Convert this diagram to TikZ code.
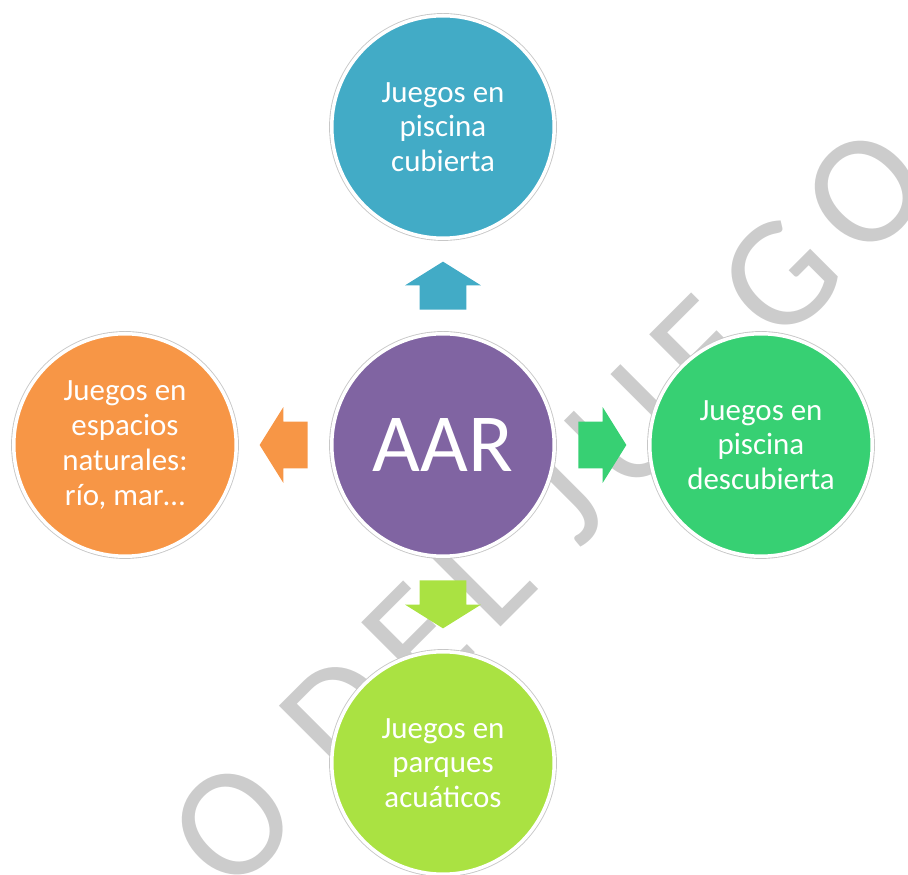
\documentclass[tikz,border=0pt]{standalone}
\usepackage{fontspec}
\setmainfont{Carlito}
\newfontfamily\marcafont[LetterSpace=12]{Carlito}
\usetikzlibrary{shapes.arrows,calc}
\definecolor{morado}{RGB}{128,100,162}
\definecolor{azul}{RGB}{66,171,198}
\definecolor{verde}{RGB}{55,208,115}
\definecolor{naranja}{RGB}{247,150,70}
\definecolor{lima}{RGB}{170,226,66}
\definecolor{marca}{RGB}{204,204,204}

\begin{document}
\begin{tikzpicture}[node distance=6.36cm,
        burbuja/.style={circle, minimum size=4.45cm, inner sep=0pt, draw=white, line width=2pt,
            preaction={draw=black!22, line width=3pt}, text=white, align=center,
            font=\fontsize{17.6}{19.8}\selectfont},
        flecha/.style={single arrow, draw=none, anchor=tail, inner xsep=0pt, inner ysep=0.46cm,
            minimum height=0.96cm, single arrow head extend=0.29cm, single arrow tip angle=116}]
    \clip (-8.86,-8.60) rectangle (9.30,8.90);

    % Marca de agua
    \node[text=marca, rotate=45, font=\marcafont\fontsize{90}{90}\selectfont] (marca) at (2.12,-1.26) {O DEL JUEGO};

    % Centro
    \node[burbuja, fill=morado, font=\fontsize{47}{47}\selectfont] (aar) at (0,0) {AAR};

    % Tipos de juego
    \node[burbuja, fill=azul, above of=aar] (cubierta) {Juegos en\\piscina\\cubierta};
    \node[burbuja, fill=verde, right of=aar] (descubierta) {Juegos en\\piscina\\descubierta};
    \node[burbuja, fill=lima, below of=aar] (acuaticos) {Juegos en\\parques\\acuáticos};
    \node[burbuja, fill=naranja, left of=aar] (naturales) {Juegos en\\espacios\\naturales:\\río, mar…};

    % Flechas (la cola queda a media flecha del punto medio)
    \node[flecha, fill=azul, rotate=90] (f-cubierta) at ($(aar)!0.5!(cubierta)!0.48cm!(aar)$) {};
    \node[flecha, fill=verde] (f-descubierta) at ($(aar)!0.5!(descubierta)!0.48cm!(aar)$) {};
    \node[flecha, fill=lima, rotate=270] (f-acuaticos) at ($(aar)!0.5!(acuaticos)!0.48cm!(aar)$) {};
    \node[flecha, fill=naranja, rotate=180] (f-naturales) at ($(aar)!0.5!(naturales)!0.48cm!(aar)$) {};
\end{tikzpicture}
\end{document}
